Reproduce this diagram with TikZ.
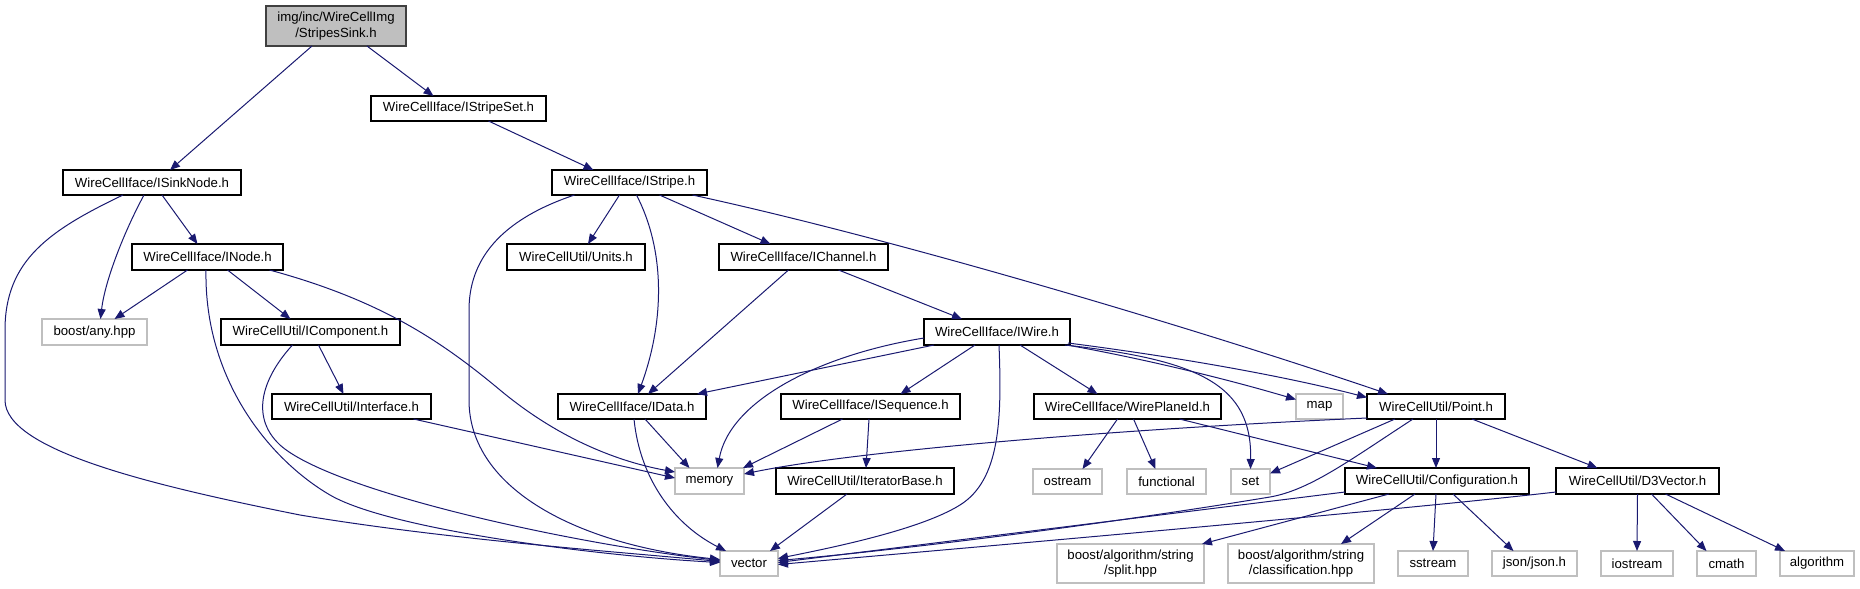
\documentclass[tikz,border=0pt]{standalone}
\usepackage{fontspec}
\setmainfont{Liberation Sans}
\usetikzlibrary{calc,arrows.meta}
\definecolor{edgec}{RGB}{25,25,112}
\definecolor{gline}{RGB}{191,191,191}
\definecolor{rootfill}{RGB}{191,191,191}
\definecolor{rootline}{RGB}{64,64,64}
\tikzset{
 nodebase/.style={rectangle, inner sep=0pt, outer sep=0pt, line width=0.8pt, font=\fontsize{9.9}{11.5}\selectfont, align=center},
 blk/.style={nodebase, draw=black, fill=white},
 gry/.style={nodebase, draw=gline, fill=white},
 rootbox/.style={nodebase, draw=rootline, fill=rootfill},
 dep/.style={draw=edgec, line width=0.75pt, -{Triangle[length=7.5pt,width=6pt]}},
}
\newcommand\bx[7]{\node[#7, minimum width={(#4-#2)*0.75pt}, minimum height={(#5-#3)*0.75pt}] (#1) at ({(#2+#4)/2},{(#3+#5)/2}) {#6};}
\begin{document}
\begin{tikzpicture}[x=0.75pt,y=-0.75pt]
\useasboundingbox (0,0) rectangle (1860,589);
% nodes
\bx{root}{266}{6}{406}{46}{img/inc/WireCellImg\\/StripesSink.h}{rootbox}
\bx{stripeset}{371}{96}{546}{121}{WireCellIface/IStripeSet.h}{blk}
\bx{isink}{63}{170}{241}{195}{WireCellIface/ISinkNode.h}{blk}
\bx{stripe}{552}{170}{707}{195}{WireCellIface/IStripe.h}{blk}
\bx{inode}{132}{244}{283}{270}{WireCellIface/INode.h}{blk}
\bx{units}{507}{244}{645}{270}{WireCellUtil/Units.h}{blk}
\bx{ichannel}{719}{244}{888}{270}{WireCellIface/IChannel.h}{blk}
\bx{anyhpp}{42}{319}{147}{345}{boost/any.hpp}{gry}
\bx{icomp}{221}{319}{400}{345}{WireCellUtil/IComponent.h}{blk}
\bx{iwire}{924}{319}{1070}{345}{WireCellIface/IWire.h}{blk}
\bx{interface}{272}{394}{431}{419}{WireCellUtil/Interface.h}{blk}
\bx{idata}{558}{394}{706}{419}{WireCellIface/IData.h}{blk}
\bx{isequence}{781}{394}{960}{419}{WireCellIface/ISequence.h}{blk}
\bx{wpid}{1034}{394}{1221}{419}{WireCellIface/WirePlaneId.h}{blk}
\bx{map}{1296}{394}{1343}{419}{map}{gry}
\bx{point}{1367}{394}{1505}{419}{WireCellUtil/Point.h}{blk}
\bx{memory}{675}{468}{744}{494}{memory}{gry}
\bx{iterbase}{776}{468}{954}{494}{WireCellUtil/IteratorBase.h}{blk}
\bx{ostream}{1033}{469}{1102}{494}{ostream}{gry}
\bx{functional}{1127}{469}{1206}{494}{functional}{gry}
\bx{set}{1231}{469}{1270}{494}{set}{gry}
\bx{config}{1345}{468}{1529}{494}{WireCellUtil/Configuration.h}{blk}
\bx{d3vec}{1556}{468}{1719}{494}{WireCellUtil/D3Vector.h}{blk}
\bx{vector}{720}{551}{778}{576}{vector}{gry}
\bx{split}{1057}{544}{1204}{583}{boost/algorithm/string\\/split.hpp}{gry}
\bx{classif}{1228}{544}{1374}{583}{boost/algorithm/string\\/classification.hpp}{gry}
\bx{sstream}{1398}{551}{1468}{576}{sstream}{gry}
\bx{json}{1492}{551}{1577}{576}{json/json.h}{gry}
\bx{iostream}{1601}{551}{1673}{576}{iostream}{gry}
\bx{cmath}{1697}{551}{1756}{576}{cmath}{gry}
\bx{algorithm}{1780}{551}{1854}{576}{algorithm}{gry}
% edges
\draw[dep] ($(root.south)+(-24,0)$) -- ($(isink.north)+(18,0)$);
\draw[dep] ($(root.south)+(31,0)$) -- ($(stripeset.north)+(-25,0)$);
\draw[dep] ($(stripeset.south)+(30,0)$) -- ($(stripe.north)+(-36,0)$);
\draw[dep] ($(isink.south)+(10,0)$) -- ($(inode.north)+(-10,0)$);
\draw[dep] ($(isink.south)+(-8,0)$) .. controls (125,230) and (105,280) .. ($(anyhpp.north)+(6,0)$);
\draw[dep] ($(inode.south)+(-20,0)$) -- ($(anyhpp.north)+(20,0)$);
\draw[dep] ($(isink.south)+(-29,0)$) .. controls (50,230) and (5,260) .. (5,330) -- (5,400) .. controls (5,450) and (150,485) .. (300,515) .. controls (450,540) and (620,552) .. ($(vector.west)+(0,-2)$);
\draw[dep] ($(inode.south)+(-1.5,0)$) .. controls (204,380) and (270,460) .. (330,495) .. controls (390,530) and (600,556) .. ($(vector.west)+(0,-1)$);
\draw[dep] ($(inode.south)+(20,0)$) -- ($(icomp.north)+(-20,0)$);
\draw[dep] ($(inode.south)+(62,0)$) .. controls (380,300) and (440,340) .. (500,390) .. controls (560,440) and (620,462) .. ($(memory.west)+(0,-9)$);
\draw[dep] ($(icomp.south)+(-18,0)$) .. controls (265,375) and (248,415) .. (280,445) .. controls (330,490) and (560,542) .. ($(vector.west)+(0,-3)$);
\draw[dep] ($(icomp.south)+(8,0)$) -- ($(interface.north)+(-8,0)$);
\draw[dep] ($(interface.south)+(62,0)$) -- ($(memory.west)+(0,-3)$);
\draw[dep] ($(stripe.south)+(-55,0)$) .. controls (500,220) and (469,260) .. (469,310) -- (469,400) .. controls (469,490) and (580,545) .. ($(vector.west)+(0,-4)$);
\draw[dep] ($(stripe.south)+(-10,0)$) -- ($(units.north)+(12,0)$);
\draw[dep] ($(stripe.south)+(7,0)$) .. controls (665,250) and (665,320) .. ($(idata.north)+(6,0)$);
\draw[dep] ($(stripe.south)+(30,0)$) -- ($(ichannel.north)+(-33,0)$);
\draw[dep] ($(stripe.south)+(63,0)$) .. controls (900,240) and (1200,330) .. ($(point.north)+(-48,0)$);
\draw[dep] ($(ichannel.south)+(-15,0)$) -- ($(idata.north)+(16,0)$);
\draw[dep] ($(ichannel.south)+(35,0)$) -- ($(iwire.north)+(-35,0)$);
\draw[dep] ($(iwire.south)+(-63,0)$) -- ($(idata.north)+(65,0)$);
\draw[dep] ($(iwire.west)+(0,6)$) .. controls (820,355) and (730,400) .. ($(memory.north)+(8,0)$);
\draw[dep] ($(iwire.south)+(-22,0)$) -- ($(isequence.north)+(30,0)$);
\draw[dep] ($(iwire.south)+(2,0)$) .. controls (1002,420) and (1000,480) .. (960,505) .. controls (920,530) and (830,548) .. ($(vector.east)+(0,-5)$);
\draw[dep] ($(iwire.south)+(23,0)$) -- ($(wpid.north)+(-30,0)$);
\draw[dep] ($(iwire.south east)+(-3,0)$) .. controls (1150,360) and (1230,380) .. ($(map.west)+(0,-7)$);
\draw[dep] ($(iwire.south east)+(-2,-2)$) .. controls (1200,360) and (1300,380) .. ($(point.west)+(0,-9)$);
\draw[dep] ($(iwire.south east)+(-5,0)$) .. controls (1200,360) and (1252,385) .. (set.north);
\draw[dep] ($(idata.south)+(13,0)$) -- ($(memory.north)+(-20,0)$);
\draw[dep] ($(idata.south)+(2,0)$) .. controls (640,480) and (675,525) .. ($(vector.north west)+(6,0)$);
\draw[dep] ($(isequence.south)+(-28,0)$) -- ($(memory.north east)+(-1,0)$);
\draw[dep] ($(isequence.south)+(-1.5,0)$) -- ($(iterbase.north)+(1,0)$);
\draw[dep] ($(iterbase.south)+(-18,0)$) -- ($(vector.north)+(21,0)$);
\draw[dep] ($(wpid.south)+(-10,0)$) -- ($(ostream.north)+(15,0)$);
\draw[dep] ($(wpid.south)+(6,0)$) -- ($(functional.north)+(-11,0)$);
\draw[dep] ($(wpid.south)+(52,0)$) -- ($(config.north)+(-60,0)$);
\draw[dep] ($(point.south west)+(0,-1)$) .. controls (1100,430) and (850,452) .. ($(memory.east)+(0,-7)$);
\draw[dep] ($(point.south)+(-41,0)$) -- ($(set.east)+(0,-8)$);
\draw[dep] ($(point.south)+(-23,0)$) .. controls (1350,460) and (1310,490) .. (1270,497) .. controls (1100,525) and (900,550) .. ($(vector.east)+(0,-3)$);
\draw[dep] (point.south) -- ($(config.north)+(-1,0)$);
\draw[dep] ($(point.south)+(36,0)$) -- ($(d3vec.north)+(-40,0)$);
\draw[dep] ($(config.south west)+(0,-2)$) -- ($(vector.east)+(0,-1)$);
\draw[dep] ($(config.south)+(-48,0)$) -- ($(split.north east)+(-2,0)$);
\draw[dep] ($(config.south)+(-22,0)$) -- ($(classif.north)+(40,0)$);
\draw[dep] ($(config.south)+(-1,0)$) -- (sstream.north);
\draw[dep] ($(config.south)+(16,0)$) -- ($(json.north)+(-21,0)$);
\draw[dep] ($(d3vec.south west)+(0,-2)$) .. controls (1400,510) and (1000,545) .. ($(vector.east)+(0,1)$);
\draw[dep] (d3vec.south) -- (iostream.north);
\draw[dep] ($(d3vec.south)+(14,0)$) -- ($(cmath.north)+(-20,0)$);
\draw[dep] ($(d3vec.south)+(28,0)$) -- ($(algorithm.north)+(-32,0)$);
\end{tikzpicture}
\end{document}
